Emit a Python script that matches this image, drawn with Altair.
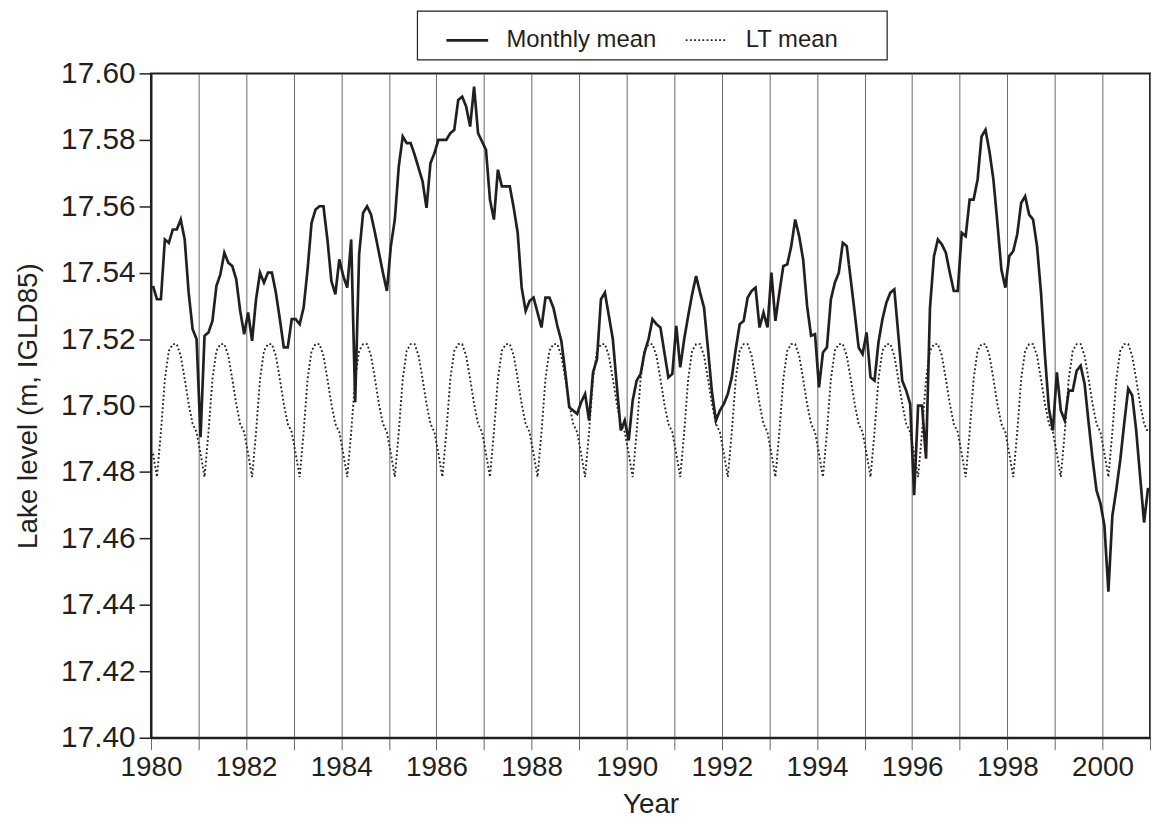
import altair as alt
import pandas as pd

# ---- data (monthly mean lake level, m IGLD85) ----
lvl_1980 = [17.536, 17.532, 17.532, 17.550, 17.549, 17.553, 17.553, 17.556, 17.550, 17.534, 17.523, 17.520]
lvl_1981 = [17.4905, 17.521, 17.522, 17.5255, 17.536, 17.5395, 17.546, 17.543, 17.542, 17.538, 17.5285, 17.5215]
lvl_1982 = [17.528, 17.5195, 17.532, 17.540, 17.537, 17.540, 17.540, 17.534, 17.526, 17.5175, 17.5175, 17.526]
lvl_1983 = [17.526, 17.5245, 17.5295, 17.541, 17.555, 17.559, 17.560, 17.560, 17.550, 17.5375, 17.5335, 17.544]
lvl_1984 = [17.539, 17.5355, 17.550, 17.501, 17.5455, 17.558, 17.560, 17.5575, 17.552, 17.546, 17.540, 17.5345]
lvl_1985 = [17.548, 17.556, 17.572, 17.581, 17.579, 17.579, 17.5755, 17.5715, 17.5675, 17.5595, 17.573, 17.576]
lvl_1986 = [17.580, 17.580, 17.580, 17.582, 17.583, 17.592, 17.593, 17.590, 17.584, 17.596, 17.582, 17.5795]
lvl_1987 = [17.577, 17.562, 17.556, 17.571, 17.566, 17.566, 17.566, 17.5595, 17.552, 17.5355, 17.5285, 17.5315]
lvl_1988 = [17.5325, 17.528, 17.5235, 17.5325, 17.5325, 17.5295, 17.524, 17.5195, 17.510, 17.4995, 17.4985, 17.4975]
lvl_1989 = [17.501, 17.5035, 17.4955, 17.510, 17.514, 17.532, 17.534, 17.527, 17.520, 17.506, 17.4925, 17.4955]
lvl_1990 = [17.4895, 17.5015, 17.5075, 17.5095, 17.516, 17.520, 17.526, 17.5245, 17.5235, 17.516, 17.5085, 17.5095]
lvl_1991 = [17.524, 17.5115, 17.520, 17.527, 17.5335, 17.539, 17.534, 17.5295, 17.517, 17.504, 17.4955, 17.4985]
lvl_1992 = [17.5005, 17.5035, 17.5085, 17.517, 17.5245, 17.5255, 17.5325, 17.5345, 17.5355, 17.5235, 17.528, 17.5235]
lvl_1993 = [17.540, 17.5255, 17.534, 17.542, 17.5425, 17.548, 17.556, 17.551, 17.544, 17.530, 17.521, 17.5215]
lvl_1994 = [17.5055, 17.516, 17.5175, 17.532, 17.537, 17.540, 17.549, 17.548, 17.538, 17.528, 17.5175, 17.5155]
lvl_1995 = [17.522, 17.5085, 17.5075, 17.519, 17.526, 17.531, 17.534, 17.535, 17.5215, 17.5075, 17.5045, 17.5005]
lvl_1996 = [17.473, 17.500, 17.500, 17.484, 17.5295, 17.545, 17.550, 17.5485, 17.546, 17.540, 17.5345, 17.5345]
lvl_1997 = [17.552, 17.551, 17.562, 17.562, 17.568, 17.581, 17.583, 17.5765, 17.568, 17.555, 17.541, 17.5355]
lvl_1998 = [17.545, 17.5465, 17.5515, 17.561, 17.563, 17.5575, 17.556, 17.548, 17.534, 17.515, 17.499, 17.4925]
lvl_1999 = [17.510, 17.4985, 17.4955, 17.5045, 17.5045, 17.5105, 17.512, 17.5065, 17.495, 17.484, 17.4745, 17.4705]
lvl_2000 = [17.4638, 17.444, 17.4668, 17.4747, 17.4837, 17.4947, 17.5051, 17.5031, 17.4927, 17.4787, 17.4648, 17.4752]

years = list(range(1980, 2001))
monthly_by_year = [lvl_1980, lvl_1981, lvl_1982, lvl_1983, lvl_1984, lvl_1985, lvl_1986,
                   lvl_1987, lvl_1988, lvl_1989, lvl_1990, lvl_1991, lvl_1992, lvl_1993,
                   lvl_1994, lvl_1995, lvl_1996, lvl_1997, lvl_1998, lvl_1999, lvl_2000]

# long-term monthly mean (Jan..Dec), repeated every year
lt_mean = [17.4855, 17.4785, 17.4920, 17.5080, 17.5165, 17.5185,
           17.5185, 17.5150, 17.5080, 17.5005, 17.4945, 17.4920]

series_names = ["Monthly mean", "LT mean"]
y_ticks = [round(17.40 + 0.02 * i, 2) for i in range(11)]
x_ticks = list(range(1980, 2002))

rows = []
for y, vals in zip(years, monthly_by_year):
    for m in range(12):
        t = y + (m + 0.5) / 12.0
        rows.append({"t": t, "v": vals[m], "series": series_names[0]})
for y in years:
    for m in range(12):
        t = y + (m + 0.5) / 12.0
        rows.append({"t": t, "v": lt_mean[m], "series": series_names[1]})
df = pd.DataFrame(rows)

INK = "#231f20"
FONT = "Liberation Sans"
BLANK = "\u00a0"

chart = alt.Chart(df).mark_line(color=INK, clip=True).encode(
    x=alt.X("t:Q",
            scale=alt.Scale(domain=[1980, 2001], nice=False, zero=False),
            axis=alt.Axis(values=x_ticks,
                          labelExpr="datum.value % 2 == 0 ? format(datum.value, 'd') : ''",
                          grid=True, gridColor="#6a6a6a", gridWidth=1,
                          tickSize=12, tickColor="#6a6a6a", tickWidth=1,
                          labelFontSize=28, labelPadding=4, labelFlush=False,
                          titleFontSize=28, titlePadding=9),
            title="Year"),
    y=alt.Y("v:Q",
            scale=alt.Scale(domain=[17.40, 17.60], nice=False, zero=False),
            axis=alt.Axis(values=y_ticks, format=".2f", grid=False,
                          tickSize=12, tickColor=INK, tickWidth=1.5,
                          labelFontSize=30, labelPadding=4,
                          titleFontSize=28, titlePadding=18),
            title="Lake level (m, IGLD85)"),
    strokeDash=alt.StrokeDash("series:N",
                              scale=alt.Scale(domain=series_names, range=[[1, 0], [1.8, 2.4]]),
                              legend=alt.Legend(title=BLANK)),
    strokeWidth=alt.StrokeWidth("series:N",
                                scale=alt.Scale(type="point", padding=0, domain=series_names, range=[2.7, 1.9]),
                                legend=alt.Legend(title=BLANK)),
).properties(
    width=1006,
    height=669,
    autosize=alt.AutoSizeParams(type="none"),
    padding={"left": 144, "top": 63, "right": 3, "bottom": 83},
).configure_view(
    stroke=INK, strokeWidth=2
).configure_axis(
    domainColor=INK, domainWidth=2,
    labelFont=FONT, titleFont=FONT, labelColor=INK, titleColor=INK,
    titleFontWeight="normal",
).configure_legend(
    orient="none", legendX=268, legendY=-63,
    direction="horizontal", columns=2,
    strokeColor=INK, strokeWidth=1.2, fillColor="white",
    padding=7, symbolType="stroke", symbolSize=1764,
    symbolStrokeColor=INK, symbolOffset=21, labelOffset=17, columnPadding=7,
    labelFont=FONT, labelFontSize=24, labelColor=INK,
    titleOrient="right", titlePadding=42, titleFontSize=24, titleFont=FONT,
    titleFontWeight="normal",
)

chart.save("out.html", embed_options={"renderer": "svg", "actions": False})
